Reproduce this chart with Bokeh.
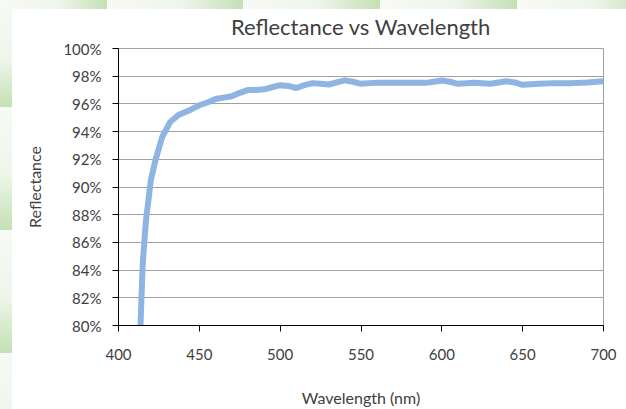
from bokeh.plotting import figure
from bokeh.models import NumeralTickFormatter, FixedTicker, Range1d, Styles
from bokeh.embed import file_html
from bokeh.resources import INLINE

# Data (wavelength in nm, reflectance in %)
wavelength = [413.6, 415, 417, 420, 423, 427, 432, 437, 445, 450, 455, 460, 465, 470,
              475, 480, 485, 490, 495, 500, 505, 510, 515, 520, 525, 530, 535, 540,
              545, 550, 555, 560, 570, 580, 590, 595, 600, 605, 610, 620, 630, 640,
              645, 650, 660, 670, 680, 690, 700]
reflectance = [80.0, 84.5, 87.6, 90.5, 92.0, 93.6, 94.7, 95.2, 95.6, 95.9, 96.1, 96.35,
               96.45, 96.55, 96.8, 97.0, 97.0, 97.05, 97.2, 97.35, 97.3, 97.15, 97.35,
               97.5, 97.45, 97.4, 97.55, 97.7, 97.6, 97.45, 97.5, 97.52, 97.52, 97.52,
               97.52, 97.6, 97.69, 97.6, 97.45, 97.52, 97.45, 97.64, 97.55, 97.38,
               97.45, 97.5, 97.5, 97.55, 97.64]
x_ticks = [400, 450, 500, 550, 600, 650, 700]
y_ticks_pct = [80, 82, 84, 86, 88, 90, 92, 94, 96, 98, 100]

title_text = "Reflectance vs Wavelength"
x_label = "Wavelength (nm)"
y_label = "Reflectance"

FONT = "Lato"
TEXT_COLOR = "#404040"

# decorative slide background: green gradient strips along the top and left edges
PALE, MID, GREEN = "#f7faf5", "#eef5ea", "#c4e0b4"
top_tiles = [(0, 107), (107, 136), (243, 137), (380, 137), (517, 137)]
left_tiles = [(0, 107), (107, 123), (230, 123), (353, 123)]
images, positions, sizes = [], [], []
for x0, w in top_tiles:
    images.append(f"linear-gradient(to right, {PALE} 0%, {MID} 55%, {GREEN} 100%)")
    positions.append(f"{x0}px 0px")
    sizes.append(f"{w}px 9px")
for y0, h in left_tiles:
    images.append(f"linear-gradient(to bottom, {PALE} 0%, {MID} 55%, {GREEN} 100%)")
    positions.append(f"0px {y0}px")
    sizes.append(f"12px {h}px")
bg_styles = Styles(background_color="white",
                   background_image=", ".join(images),
                   background_position=", ".join(positions),
                   background_size=", ".join(sizes),
                   background_repeat="no-repeat")

p = figure(width=626, height=409, output_backend="svg", toolbar_location=None,
           x_range=Range1d(400, 700), y_range=Range1d(0.80, 1.00),
           min_border_left=118, min_border_right=23, min_border_top=48,
           min_border_bottom=84, styles=bg_styles)

p.title.text = title_text
p.title.align = "center"
p.title.text_font = FONT
p.title.text_font_size = "22px"
p.title.text_font_style = "normal"
p.title.text_color = TEXT_COLOR
p.title.standoff = 18

p.line(wavelength, [v / 100 for v in reflectance], line_color="#8db4e2",
       line_width=6, line_join="round")

p.xaxis.ticker = FixedTicker(ticks=x_ticks)
p.yaxis.ticker = FixedTicker(ticks=[v / 100 for v in y_ticks_pct])
p.yaxis.formatter = NumeralTickFormatter(format="0%")

for ax in (p.xaxis, p.yaxis):
    ax.axis_line_color = "black"
    ax.major_tick_line_color = "black"
    ax.major_tick_out = 6
    ax.major_tick_in = 0
    ax.minor_tick_line_color = None
    ax.major_label_text_font = FONT
    ax.major_label_text_font_size = "15px"
    ax.major_label_text_color = TEXT_COLOR
    ax.axis_label_text_font = FONT
    ax.axis_label_text_font_size = "16px"
    ax.axis_label_text_font_style = "normal"
    ax.axis_label_text_color = TEXT_COLOR

p.xaxis.axis_label = x_label
p.yaxis.axis_label = y_label
p.xaxis.major_label_standoff = 17
p.yaxis.major_label_standoff = 11
p.xaxis.axis_label_standoff = 25
p.yaxis.axis_label_standoff = 16

p.xgrid.grid_line_color = None
p.ygrid.grid_line_color = "#a0a0a0"
p.ygrid.grid_line_width = 1
p.outline_line_color = "#a0a0a0"
p.background_fill_color = "white"
p.border_fill_alpha = 0

open("out.html", "w").write(file_html(p, INLINE))
